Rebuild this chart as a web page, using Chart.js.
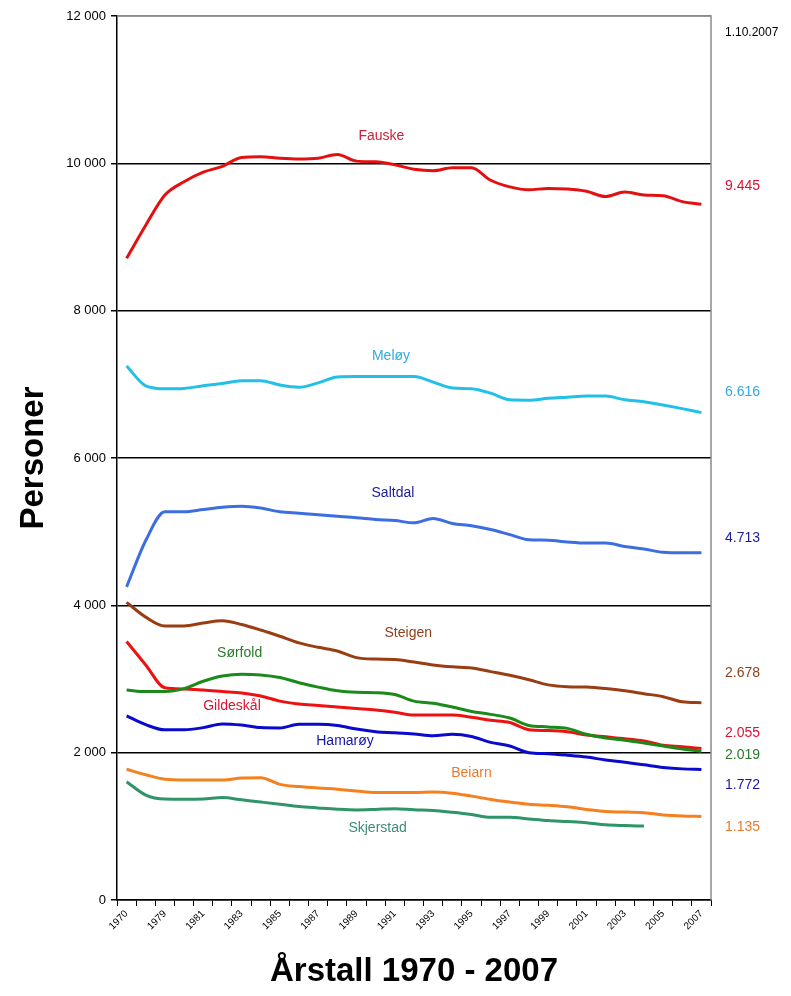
<!DOCTYPE html>
<html lang="no">
<head>
    <meta charset="UTF-8">
    <title>Folketall 1970 - 2007</title>
    <style>
        body {
            margin: 0;
            background-color: #fff;
        }
        #chart {
            display: block;
        }
    </style>
</head>
<body>
    <canvas id="chart" width="791" height="996"></canvas>

    <script src="https://cdn.jsdelivr.net/npm/chart.js"></script>
    <script>
        // data (1970, then every year 1978-2007)
        const years = ['1970', '1978', '1979', '1980', '1981', '1982', '1983', '1984', '1985', '1986',
            '1987', '1988', '1989', '1990', '1991', '1992', '1993', '1994', '1995', '1996',
            '1997', '1998', '1999', '2000', '2001', '2002', '2003', '2004', '2005', '2006', '2007'];

        const fauske = [8710, 9160, 9570, 9750, 9880, 9960, 10080, 10090, 10070, 10060,
            10070, 10120, 10030, 10020, 9980, 9920, 9900, 9940, 9940, 9770,
            9680, 9640, 9660, 9650, 9620, 9550, 9610, 9570, 9560, 9480, 9445];
        const meloy = [7250, 6980, 6940, 6945, 6980, 7010, 7050, 7050, 6990, 6960,
            7020, 7100, 7105, 7105, 7105, 7105, 7030, 6950, 6940, 6880,
            6790, 6785, 6810, 6825, 6840, 6840, 6790, 6765, 6720, 6670, 6616];
        const saltdal = [4250, 4880, 5270, 5270, 5300, 5330, 5345, 5320, 5270, 5250,
            5230, 5210, 5190, 5165, 5150, 5120, 5180, 5110, 5080, 5030,
            4960, 4890, 4885, 4860, 4845, 4845, 4800, 4765, 4720, 4713, 4713];
        const steigen = [4040, 3840, 3720, 3720, 3760, 3790, 3740, 3665, 3580, 3490,
            3430, 3380, 3290, 3270, 3265, 3230, 3190, 3165, 3150, 3100,
            3050, 2990, 2920, 2895, 2890, 2870, 2840, 2800, 2760, 2690, 2678];
        const sorfold = [2850, 2830, 2830, 2870, 2970, 3040, 3065, 3055, 3020, 2950,
            2890, 2840, 2820, 2815, 2790, 2700, 2670, 2620, 2560, 2520,
            2470, 2370, 2350, 2330, 2250, 2200, 2170, 2130, 2090, 2050, 2019];
        const gildeskal = [3510, 3190, 2880, 2865, 2850, 2830, 2810, 2770, 2700, 2660,
            2640, 2620, 2600, 2580, 2550, 2510, 2510, 2510, 2480, 2440,
            2410, 2310, 2300, 2285, 2240, 2215, 2190, 2160, 2100, 2080, 2055];
        const hamaroy = [2500, 2380, 2310, 2310, 2340, 2390, 2375, 2340, 2335, 2385,
            2385, 2370, 2320, 2285, 2270, 2253, 2230, 2250, 2220, 2140,
            2090, 2000, 1985, 1965, 1940, 1900, 1870, 1835, 1800, 1780, 1772];
        const beiarn = [1775, 1700, 1640, 1630, 1630, 1630, 1655, 1660, 1570, 1540,
            1520, 1505, 1480, 1460, 1460, 1460, 1465, 1450, 1410, 1365,
            1330, 1300, 1285, 1265, 1230, 1200, 1195, 1185, 1155, 1140, 1135];
        // Skjerstad stops after 2004
        const skjerstad = [1605, 1425, 1370, 1367, 1370, 1390, 1360, 1330, 1300, 1270,
            1250, 1232, 1222, 1230, 1240, 1225, 1215, 1190, 1160, 1122,
            1122, 1100, 1078, 1065, 1050, 1020, 1010, 1004, null, null, null];

        const yTicks = [0, 2000, 4000, 6000, 8000, 10000, 12000];
        const endLabels = ['9.445', '6.616', '4.713', '2.678', '2.055', '2.019', '1.772', '1.135'];

        const series = [
            { name: 'Fauske', data: fauske, line: '#e41010', text: '#cc1f3a', at: 13.3, v: 10370 },
            { name: 'Meløy', data: meloy, line: '#22c0e8', text: '#33aadd', at: 13.8, v: 7385 },
            { name: 'Saltdal', data: saltdal, line: '#3c6ee0', text: '#1c1c99', at: 13.9, v: 5525 },
            { name: 'Steigen', data: steigen, line: '#993d12', text: '#8e3f1a', at: 14.7, v: 3628 },
            { name: 'Sørfold', data: sorfold, line: '#1a8a1a', text: '#2a7a2a', at: 5.9, v: 3349 },
            { name: 'Gildeskål', data: gildeskal, line: '#ee1111', text: '#dd1133', at: 5.5, v: 2638 },
            { name: 'Hamarøy', data: hamaroy, line: '#0a0acc', text: '#1414aa', at: 11.4, v: 2158 },
            { name: 'Beiarn', data: beiarn, line: '#f58020', text: '#e87a30', at: 18, v: 1720 },
            { name: 'Skjerstad', data: skjerstad, line: '#2f9468', text: '#3c8c78', at: 13.1, v: 973 }
        ];

        // value labels right of the plot, in chart units
        const rightNotes = [
            { text: '1.10.2007', v: 11780, color: '#000', size: 12 },
            { text: endLabels[0], v: 9690, color: '#dd1133', size: 14 },
            { text: endLabels[1], v: 6900, color: '#33aadd', size: 14 },
            { text: endLabels[2], v: 4915, color: '#1c1c99', size: 14 },
            { text: endLabels[3], v: 3085, color: '#8e3f1a', size: 14 },
            { text: endLabels[4], v: 2263, color: '#dd1133', size: 14 },
            { text: endLabels[5], v: 1968, color: '#2a7a2a', size: 14 },
            { text: endLabels[6], v: 1561, color: '#1414aa', size: 14 },
            { text: endLabels[7], v: 995, color: '#e87a30', size: 14 }
        ];

        const labelPlugin = {
            id: 'labels',
            beforeDatasetsDraw(chart) {
                const ctx = chart.ctx;
                const a = chart.chartArea;
                ctx.save();
                ctx.strokeStyle = '#8a8a8a';
                ctx.lineWidth = 1.5;
                ctx.beginPath();
                ctx.moveTo(a.left, a.top);
                ctx.lineTo(a.right, a.top);
                ctx.lineTo(a.right, a.bottom);
                ctx.stroke();
                ctx.restore();
            },
            afterDatasetsDraw(chart) {
                const ctx = chart.ctx;
                const x = chart.scales.x;
                const y = chart.scales.y;
                ctx.save();
                ctx.textBaseline = 'middle';
                ctx.textAlign = 'center';
                ctx.font = '14px Arial, "Liberation Sans", sans-serif';
                series.forEach(s => {
                    ctx.fillStyle = s.text;
                    ctx.fillText(s.name, x.getPixelForValue(s.at), y.getPixelForValue(s.v));
                });
                ctx.textAlign = 'left';
                rightNotes.forEach(n => {
                    ctx.font = n.size + 'px Arial, "Liberation Sans", sans-serif';
                    ctx.fillStyle = n.color;
                    ctx.fillText(n.text, chart.chartArea.right + 14, y.getPixelForValue(n.v));
                });
                ctx.restore();
            }
        };

        const ctx = document.getElementById('chart').getContext('2d');
        const chart = new Chart(ctx, {
            type: 'line',
            data: {
                labels: years,
                datasets: series.map(s => ({
                    label: s.name,
                    data: s.data,
                    borderColor: s.line,
                    borderWidth: 3,
                    pointRadius: 0,
                    fill: false,
                    tension: 0.3,
                    cubicInterpolationMode: 'monotone',
                    spanGaps: false
                }))
            },
            options: {
                responsive: false,
                animation: false,
                layout: {
                    padding: { top: 16, right: 80, left: 0, bottom: 0 }
                },
                plugins: {
                    legend: { display: false },
                    tooltip: { enabled: false }
                },
                scales: {
                    x: {
                        offset: true,
                        afterFit(scale) { scale.height = 96; },
                        grid: {
                            offset: true,
                            drawOnChartArea: false,
                            drawTicks: true,
                            tickLength: 6,
                            color: '#000'
                        },
                        border: { color: '#000', width: 1.5 },
                        ticks: {
                            autoSkip: false,
                            maxRotation: 45,
                            minRotation: 45,
                            padding: 2,
                            color: '#000',
                            font: { family: 'Arial, "Liberation Sans", sans-serif', size: 10 },
                            callback: function(val, i) {
                                return i % 2 === 0 ? this.getLabelForValue(val) : '';
                            }
                        },
                        title: {
                            display: true,
                            text: 'Årstall 1970 - 2007',
                            color: '#000',
                            font: { family: 'Arial, "Liberation Sans", sans-serif', size: 33, weight: 'bold' },
                            padding: { top: 0, bottom: 4 }
                        }
                    },
                    y: {
                        min: 0,
                        max: 12000,
                        afterFit(scale) { scale.width = 117; },
                        afterBuildTicks(scale) {
                            scale.ticks = yTicks.map(v => ({ value: v }));
                        },
                        grid: {
                            color: c => (c.tick && c.tick.value === 12000 ? '#8a8a8a' : '#000'),
                            lineWidth: 1.5,
                            tickLength: 6,
                            tickColor: '#000'
                        },
                        border: { color: '#000', width: 1.5 },
                        ticks: {
                            padding: 5,
                            color: '#000',
                            font: { family: 'Arial, "Liberation Sans", sans-serif', size: 13 },
                            callback: v => String(v).replace(/\B(?=(\d{3})+(?!\d))/g, ' ')
                        },
                        title: {
                            display: true,
                            text: 'Personer',
                            color: '#000',
                            font: { family: 'Arial, "Liberation Sans", sans-serif', size: 33, weight: 'bold' },
                            padding: { top: 14, bottom: 0 }
                        }
                    }
                }
            },
            plugins: [labelPlugin]
        });
    </script>
</body>
</html>
